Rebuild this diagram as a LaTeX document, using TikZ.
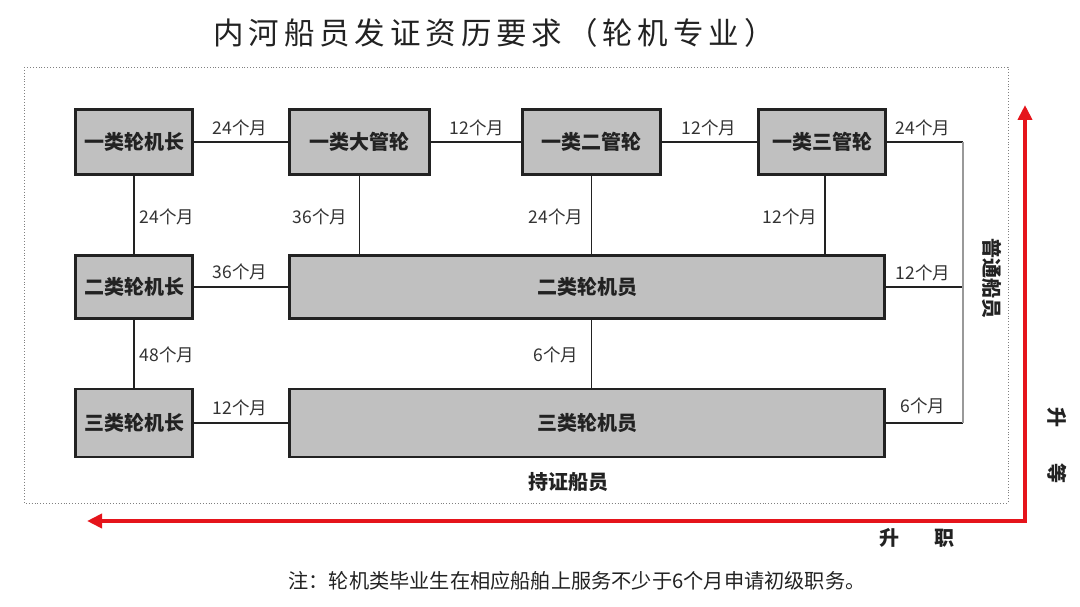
\documentclass[tikz,border=0pt]{standalone}
\usepackage{fontspec}
\usetikzlibrary{arrows.meta}
\newfontfamily\cjk{Noto Sans CJK SC}
\newfontfamily\cjktitle[LetterSpace=16]{Noto Sans CJK SC}
\definecolor{boxgray}{HTML}{C0C0C0}
\definecolor{inkdark}{HTML}{222222}
\definecolor{labelgray}{HTML}{333333}
\definecolor{arrowred}{HTML}{E5141B}
\begin{document}
\begin{tikzpicture}[x=1pt,y=-1pt,
  box/.style={draw=inkdark, fill=boxgray, line width=2.6pt, inner sep=0pt,
    font=\cjk\bfseries\fontsize{20}{20}\selectfont, text=inkdark},
  conn/.style={draw=inkdark, line width=1.8pt},
  sideline/.style={draw=gray!80, line width=1.4pt},
  lbl/.style={font=\cjk\fontsize{17.5}{18}\selectfont, text=labelgray, inner sep=0pt},
  heading/.style={font=\cjk\bfseries\fontsize{20}{20}\selectfont, text=inkdark, inner sep=0pt},
  redarrow/.style={draw=arrowred, line width=4.5pt, line join=miter,
    {Triangle[length=15pt,width=14pt]}-{Triangle[length=15pt,width=14pt]}}
]
\useasboundingbox (0,0) rectangle (1080,607);
\fill[white] (0,0) rectangle (1080,607);

% title
\node[font=\cjktitle\fontsize{30.5}{31}\selectfont, text=inkdark, inner sep=0pt] (title) at (494,33) {内河船员发证资历要求（轮机专业）};

% dotted frame
\draw[gray, line width=0.9pt, dotted] (24,67) rectangle (1008,503);

% boxes
\node[box, minimum width=117pt, minimum height=65pt] (a11) at (134,142) {一类轮机长};
\node[box, minimum width=140pt, minimum height=65pt] (a12) at (359.5,142) {一类大管轮};
\node[box, minimum width=138pt, minimum height=65pt] (a13) at (591.5,142) {一类二管轮};
\node[box, minimum width=127pt, minimum height=65pt] (a14) at (822,142) {一类三管轮};
\node[box, minimum width=117pt, minimum height=63pt] (b1) at (134,287) {二类轮机长};
\node[box, minimum width=595pt, minimum height=63pt] (b2) at (587,287) {二类轮机员};
\node[box, minimum width=117pt, minimum height=68pt] (c1) at (134,423) {三类轮机长};
\node[box, minimum width=595pt, minimum height=68pt] (c2) at (587,423) {三类轮机员};

% horizontal connectors
\draw[conn] (a11.east) -- (a12.west);
\draw[conn] (a12.east) -- (a13.west);
\draw[conn] (a13.east) -- (a14.west);
\draw[conn] (b1.east) -- (b2.west);
\draw[conn] (c1.east) -- (c2.west);

% vertical connectors
\draw[conn] (a11.south) -- (b1.north);
\draw[conn] (b1.south) -- (c1.north);
\draw[conn] (a12.south) -- (a12.south |- b2.north);
\draw[conn] (a13.south) -- (a13.south |- b2.north);
\draw[conn] ([xshift=3pt]a14.south) -- ([xshift=3pt]a14.south |- b2.north);
\draw[conn] (a13.south |- b2.south) -- (a13.south |- c2.north);

% right side
\coordinate (rside) at (963,142);
\draw[conn] (a14.east) -- (a14.east -| rside);
\draw[conn] (b2.east) -- (b2.east -| rside);
\draw[conn] (c2.east) -- (c2.east -| rside);
\draw[sideline] (a14.east -| rside) -- (c2.east -| rside);

% labels
\node[lbl] (l1) at (240,128) {24个月};
\node[lbl] (l2) at (477,128) {12个月};
\node[lbl] (l3) at (709,128) {12个月};
\node[lbl] (l4) at (923,128) {24个月};
\node[lbl] (l5) at (167,217) {24个月};
\node[lbl] (l6) at (320,217) {36个月};
\node[lbl] (l7) at (556,217) {24个月};
\node[lbl] (l8) at (790,217) {12个月};
\node[lbl] (l9) at (240,272) {36个月};
\node[lbl] (l10) at (923,273) {12个月};
\node[lbl] (l11) at (167,355) {48个月};
\node[lbl] (l12) at (556,355) {6个月};
\node[lbl] (l13) at (240,408) {12个月};
\node[lbl] (l14) at (923,406) {6个月};

% group headings
\node[heading] (hold) at (568,482) {持证船员};
\node[heading, rotate=-90] (hord) at (992,279) {普通船员};

% red arrow
\coordinate (arrL) at (87,521);
\coordinate (arrC) at (1025,521);
\coordinate (arrT) at (1025,105);
\draw[redarrow] (arrL) -- (arrC) -- (arrT);

\node[heading, rotate=-90] (upgrade) at (1057,445) {升\hspace{36pt}等};
\node[heading] (promote) at (917,538) {升\hspace{35pt}职};

% note
\node[font=\cjk\fontsize{20.2}{21}\selectfont, text=inkdark, inner sep=0pt] (note) at (577,581) {注：轮机类毕业生在相应船舶上服务不少于6个月申请初级职务。};
\end{tikzpicture}
\end{document}
